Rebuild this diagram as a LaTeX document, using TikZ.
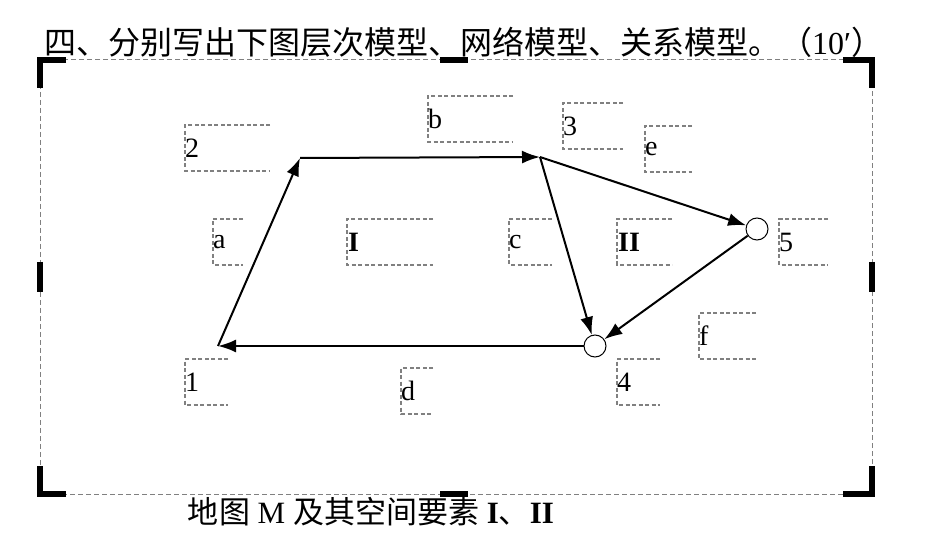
\documentclass[tikz,border=0pt]{standalone}
\usepackage{fontspec}
\setmainfont{Liberation Serif}
\newfontfamily\cjk{Noto Sans CJK SC}
\usetikzlibrary{arrows.meta}
\begin{document}
\begin{tikzpicture}[x=1pt,y=-1pt,every node/.style={inner sep=0pt,font=\fontsize{28}{28}\selectfont},
	frm/.style={gray,line width=1pt,dash pattern=on 5pt off 3pt},
	hdl/.style={line width=5.5pt},
	box/.style={gray,line width=1.2pt,dash pattern=on 4pt off 2.5pt},
	arr/.style={line width=2pt,-{Latex[length=18pt,width=13pt]}},
	pt/.style={circle,draw,line width=1pt,minimum size=22pt,fill=white}]
	\useasboundingbox(0,0)rectangle(936,534);
	\fill[white](0,0)rectangle(936,534);
	%frame and its handles
	\draw[frm](40,60)rectangle(872,494);
	\draw[hdl](66,60)--(40,60)--(40,88);
	\draw[hdl](843,60)--(872,60)--(872,88);
	\draw[hdl](66,494)--(40,494)--(40,466);
	\draw[hdl](843,494)--(872,494)--(872,466);
	\draw[hdl](440,60)--(468,60);
	\draw[hdl](440,494)--(468,494);
	\draw[hdl](40,262)--(40,292);
	\draw[hdl](872,262)--(872,292);
	%label boxes
	\foreach\x/\y/\w in{185/125/85,428/96/85,563/103/60,645/126/47,213/219/30,347/219/86,509/219/43,617/219/55,779/219/49,699/313/57,185/359/43,401/368/32,617/359/43}
		{\draw[box](\x+\w,\y)--(\x,\y)--(\x,\y+46)--(\x+\w,\y+46);}
	\foreach\x/\y/\t in{185/125/2,428/96/b,563/103/3,645/126/e,213/219/a,509/219/c,779/219/5,699/313/f,185/359/1,401/368/d,617/359/4}
		{\node[anchor=west](L\t)at(\x,\y+23){\t};}
	\node[anchor=west,font=\bfseries\fontsize{28}{28}\selectfont](LI)at(348,242){I};
	\node[anchor=west,font=\bfseries\fontsize{28}{28}\selectfont](LII)at(618,242){II};
	%map M
	\coordinate(P1)at(218,346);
	\coordinate(P2)at(300,158);
	\coordinate(P3)at(540,157);
	\node[pt](P4)at(595,346){};
	\node[pt](P5)at(757,229){};
	\draw[arr](P1)--(P2);
	\draw[arr](P2)--(P3);
	\draw[arr](P3)--(P5);
	\draw[arr](P3)--(P4);
	\draw[arr](P5)--(P4);
	\draw[arr](P4)--(P1);
	%texts
	\node[anchor=west,font=\cjk\fontsize{32}{32}\selectfont](title)at(44,42){四、分别写出下图层次模型、网络模型、关系模型。（{\rmfamily 10′}）};
	\node[font=\fontsize{31}{31}\selectfont](cap)at(371,512){{\cjk 地图} M {\cjk 及其空间要素} \textbf{I}{\cjk 、}\textbf{II}};
\end{tikzpicture}
\end{document}
